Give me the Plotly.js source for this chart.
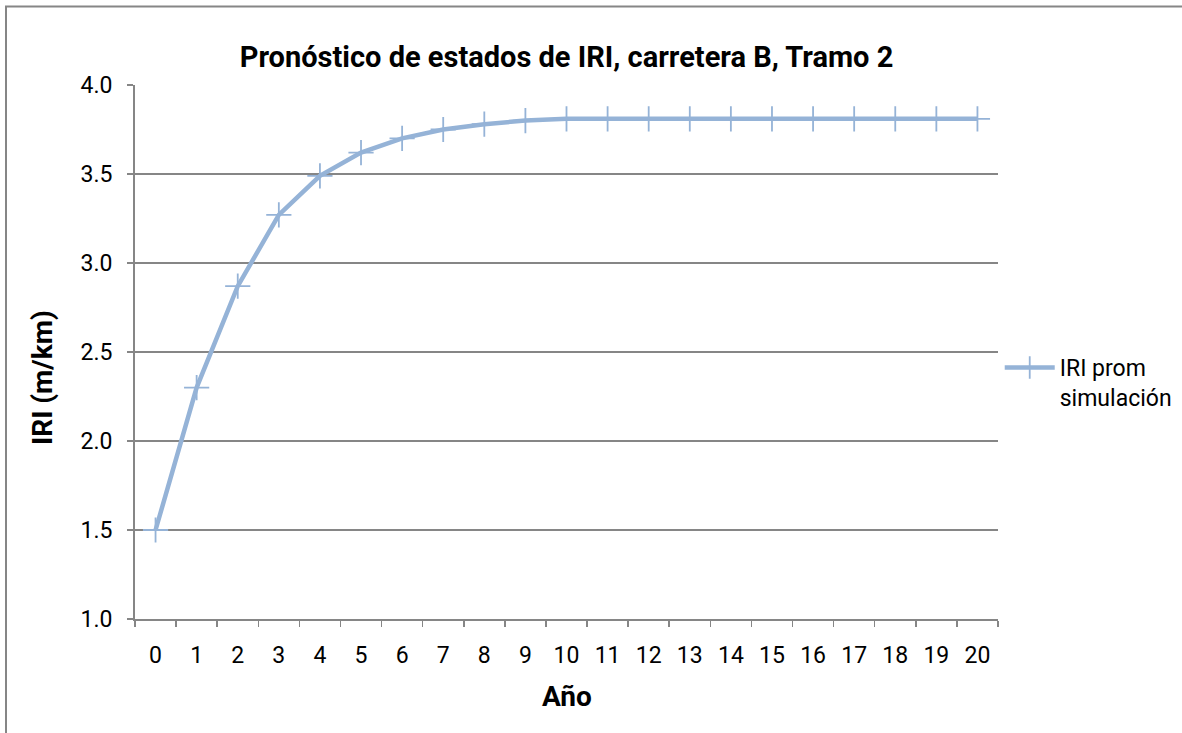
<!DOCTYPE html>
<html>
<head>
<meta charset="utf-8">
<script src="https://cdn.plot.ly/plotly-3.0.1.min.js"></script>
<style>
html,body{margin:0;padding:0;background:#fff;}
#chart{width:1182px;height:733px;}
</style>
</head>
<body>
<div id="chart"></div>
<script>
const years = ['0','1','2','3','4','5','6','7','8','9','10','11','12','13','14','15','16','17','18','19','20'];
const iriProm = [1.50, 2.30, 2.87, 3.27, 3.49, 3.62, 3.70, 3.75, 3.78, 3.80, 3.81, 3.81, 3.81, 3.81, 3.81, 3.81, 3.81, 3.81, 3.81, 3.81, 3.81];
const seriesName = 'IRI prom<br>simulación';
const chartTitle = 'Pronóstico de estados de IRI, carretera B, Tramo 2';
const xTitle = 'Año';
const yTitle = 'IRI (m/km)';

const blue = '#95B3D7';
const axisGrey = '#868686';
const tickFont = {family: 'Roboto, Open Sans, sans-serif', size: 23, color: '#000'};
const boldFont = {family: 'Roboto, Open Sans, sans-serif', size: 28, color: '#000', weight: 'bold'};
const titleFont = {family: 'Roboto, Open Sans, sans-serif', size: 29, color: '#000', weight: 'bold'};

const trace = {
  x: years,
  y: iriProm,
  type: 'scatter',
  mode: 'lines+markers',
  name: seriesName,
  line: {color: blue, width: 4.5},
  marker: {symbol: 'cross-thin', size: 18, color: blue, line: {color: blue, width: 1.8}}
};

const layout = {
  width: 1182, height: 733,
  margin: {l: 135, r: 184, t: 85, b: 114, autoexpand: false},
  paper_bgcolor: '#fff', plot_bgcolor: '#fff',
  title: {text: '<b>' + chartTitle + '</b>', font: titleFont, x: 0.5, xref: 'paper', xanchor: 'center', y: 1 - 57/733, yanchor: 'middle'},
  xaxis: {
    type: 'category',
    tickson: 'boundaries',
    ticks: 'outside', ticklen: 6, tickcolor: axisGrey, tickwidth: 1.5,
    showline: true, linecolor: axisGrey, linewidth: 2,
    showgrid: false, zeroline: false,
    tickfont: tickFont,
    ticklabelstandoff: 14,
    automargin: false,
    range: [-0.5, 20.5]
  },
  yaxis: {
    range: [1, 4], dtick: 0.5, tick0: 1, tickformat: '.1f',
    ticks: 'outside', ticklen: 6, tickcolor: axisGrey, tickwidth: 1.5,
    showline: true, linecolor: axisGrey, linewidth: 2,
    showgrid: true, gridcolor: axisGrey, gridwidth: 1.5,
    zeroline: false,
    tickfont: tickFont,
    ticklabelstandoff: 10,
    automargin: false
  },
  showlegend: true,
  legend: {
    x: 1.002, xanchor: 'left', y: (619 - 346) / 534, yanchor: 'top',
    font: {family: 'Roboto, Open Sans, sans-serif', size: 23, color: '#000'},
    bgcolor: 'rgba(0,0,0,0)', borderwidth: 0, valign: 'top',
    itemwidth: 50
  },
  annotations: [
    {text: '<b>' + xTitle + '</b>', xref: 'paper', yref: 'paper', x: 0.5, y: (619 - 696) / 534, xanchor: 'center', yanchor: 'middle', showarrow: false, font: boldFont},
    {text: '<b>' + yTitle + '</b>', xref: 'paper', yref: 'paper', x: (42 - 135) / 863, y: (619 - 378) / 534, xanchor: 'center', yanchor: 'middle', textangle: -90, showarrow: false, font: boldFont}
  ],
  shapes: [
    {type: 'rect', xref: 'paper', yref: 'paper', x0: (6 - 135) / 863, x1: (1200 - 135) / 863, y0: (619 - 760) / 534, y1: (619 - 6.5) / 534, line: {color: axisGrey, width: 2}, fillcolor: 'rgba(0,0,0,0)', layer: 'below'}
  ]
};

Plotly.newPlot('chart', [trace], layout, {staticPlot: true, displayModeBar: false});
</script>
</body>
</html>
